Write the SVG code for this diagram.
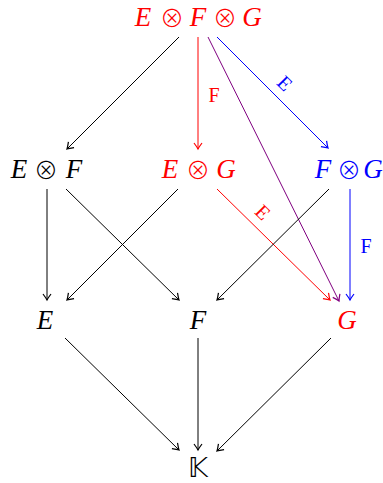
<svg xmlns="http://www.w3.org/2000/svg" width="383" height="483" viewBox="0 0 383 483">
<style>
.n{font-family:"Liberation Serif",serif;font-style:italic;font-size:27px;text-anchor:middle}
.o{font-family:"Noto Sans CJK JP","DejaVu Sans",sans-serif;font-size:24px;font-weight:300;text-anchor:middle}
.l{font-family:"Liberation Serif",serif;font-size:20px;text-anchor:middle}
.e{fill:none;stroke-width:1}
.k{stroke:#000}.r{stroke:#f00}.b{stroke:#00f}.p{stroke:#800080}
</style>
<defs>
<marker id="ak" markerUnits="userSpaceOnUse" viewBox="-8 -5 10 10" refX="0" refY="0" markerWidth="10" markerHeight="10" orient="auto"><path d="M-6,-4 Q-2,-1 0,0 Q-2,1 -6,4" fill="none" stroke="#000" stroke-width="1.2"/></marker>
<marker id="ar" markerUnits="userSpaceOnUse" viewBox="-8 -5 10 10" refX="0" refY="0" markerWidth="10" markerHeight="10" orient="auto"><path d="M-6,-4 Q-2,-1 0,0 Q-2,1 -6,4" fill="none" stroke="#f00" stroke-width="1.2"/></marker>
<marker id="ab" markerUnits="userSpaceOnUse" viewBox="-8 -5 10 10" refX="0" refY="0" markerWidth="10" markerHeight="10" orient="auto"><path d="M-6,-4 Q-2,-1 0,0 Q-2,1 -6,4" fill="none" stroke="#00f" stroke-width="1.2"/></marker>
<marker id="ap" markerUnits="userSpaceOnUse" viewBox="-8 -5 10 10" refX="0" refY="0" markerWidth="10" markerHeight="10" orient="auto"><path d="M-6,-4 Q-2,-1 0,0 Q-2,1 -6,4" fill="none" stroke="#800080" stroke-width="1.2"/></marker>
</defs>
<g id="connectors">
<line class="e k" x1="179" y1="37" x2="67" y2="149" marker-end="url(#ak)"/>
<line class="e r" x1="198" y1="37" x2="198" y2="149" marker-end="url(#ar)"/>
<text class="l" x="214" y="102" fill="#f00">F</text>
<line class="e p" x1="208" y1="37" x2="339" y2="301" marker-end="url(#ap)"/>
<line class="e b" x1="217" y1="37" x2="328" y2="148" marker-end="url(#ab)"/>
<text class="l" x="285" y="83" fill="#00f" transform="rotate(45 285 83)" dy="7">E</text>
<line class="e k" x1="47" y1="189" x2="47" y2="300" marker-end="url(#ak)"/>
<line class="e k" x1="66" y1="189" x2="179" y2="300" marker-end="url(#ak)"/>
<line class="e k" x1="178" y1="189" x2="67" y2="300" marker-end="url(#ak)"/>
<line class="e r" x1="217" y1="189" x2="330" y2="300" marker-end="url(#ar)"/>
<text class="l" x="263" y="212" fill="#f00" transform="rotate(45 263 212)" dy="7">E</text>
<line class="e k" x1="329" y1="189" x2="217" y2="300" marker-end="url(#ak)"/>
<line class="e b" x1="350" y1="189" x2="350" y2="300" marker-end="url(#ab)"/>
<text class="l" x="366" y="253" fill="#00f">F</text>
<line class="e k" x1="65" y1="338" x2="179" y2="450" marker-end="url(#ak)"/>
<line class="e k" x1="198" y1="338" x2="198" y2="450" marker-end="url(#ak)"/>
<line class="e k" x1="331" y1="338" x2="217" y2="451" marker-end="url(#ak)"/>
</g>
<g id="EFG" fill="#f00">
<text class="n" x="143" y="26">E</text><text class="o" x="172" y="27">⊗</text><text class="n" x="198" y="26">F</text><text class="o" x="225" y="27">⊗</text><text class="n" x="252" y="26">G</text>
</g>
<g id="EF" fill="#000">
<text class="n" x="19" y="178">E</text><text class="o" x="46" y="179">⊗</text><text class="n" x="74" y="178">F</text>
</g>
<g id="EG" fill="#f00">
<text class="n" x="170" y="178">E</text><text class="o" x="198" y="179">⊗</text><text class="n" x="226" y="178">G</text>
</g>
<g id="FG" fill="#00f">
<text class="n" x="323" y="178">F</text><text class="o" x="349" y="179">⊗</text><text class="n" x="373" y="178">G</text>
</g>
<g id="E"><text class="n" x="45" y="329">E</text></g>
<g id="F"><text class="n" x="198" y="329">F</text></g>
<g id="G" fill="#f00"><text class="n" x="347" y="329">G</text></g>
<g id="K"><text class="o" x="198" y="477" style="font-family:'DejaVu Sans',sans-serif;font-size:26px;font-weight:400">𝕂</text></g>
</svg>
